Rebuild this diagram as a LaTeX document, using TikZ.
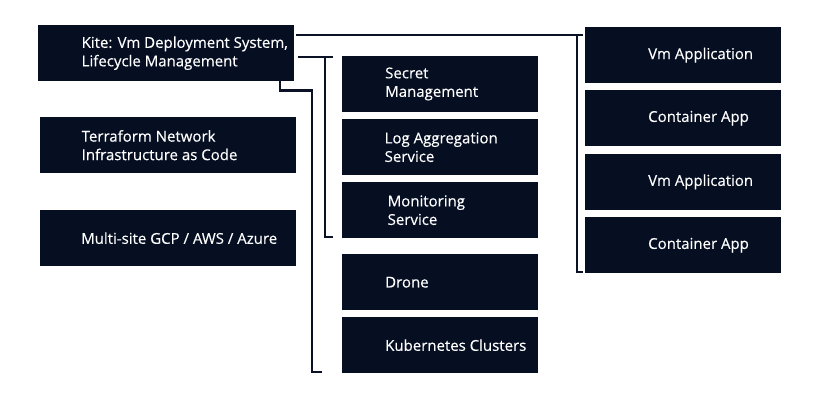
\documentclass[tikz,border=0pt]{standalone}
\usepackage{fontspec}
\setmainfont{Open Sans}
\newfontfamily\boxfont{Open Sans}[FakeBold=0.3]
\definecolor{navy}{HTML}{060E22}
\definecolor{wire}{HTML}{0B1226}
\begin{document}
\begin{tikzpicture}[x=1pt,y=-1pt,
  box/.style={fill=navy, draw=none, inner sep=0pt, anchor=north west},
  lbox/.style={box, minimum width=256pt, minimum height=56pt},
  mbox/.style={box, minimum width=196pt, minimum height=56pt},
  lbl/.style={text=white, anchor=west, align=left, inner sep=0pt, font=\boxfont\fontsize{15pt}{18.5pt}\selectfont},
  wireline/.style={draw=wire, line width=2.2pt, line cap=rect}]
\useasboundingbox (0,0) rectangle (816,408);
% left column
\node[lbox] (kite) at (38,25) {};
\node[lbl] (kitet) at ([xshift=43.5pt]kite.west) {Kite: Vm Deployment System,\\Lifecycle Management};
\node[lbox] (terra) at (40,117) {};
\node[lbl] (terrat) at ([xshift=41.5pt]terra.west) {Terraform Network\\Infrastructure as Code};
\node[lbox] (multi) at (40,210) {};
\node[lbl] (multit) at ([xshift=41pt]multi.west) {Multi-site GCP / AWS / Azure};
% middle column
\node[mbox, minimum height=55.5pt] (secret) at (342,56) {};
\node[lbl] (secrett) at ([xshift=43pt]secret.west) {Secret\\Management};
\node[mbox] (log) at (342,119) {};
\node[lbl] (logt) at ([xshift=42.5pt]log.west) {Log Aggregation\\Service};
\node[mbox] (mon) at (342,182) {};
\node[lbl] (mont) at ([xshift=45.5pt]mon.west) {Monitoring\\Service};
\node[mbox] (drone) at (342,254) {};
\node[lbl] (dronet) at ([xshift=43pt]drone.west) {Drone};
\node[mbox] (kube) at (342,317) {};
\node[lbl] (kubet) at ([xshift=43pt]kube.west) {Kubernetes Clusters};
% right column
\node[mbox] (vm1) at (585,27) {};
\node[lbl] (vm1t) at ([xshift=63pt]vm1.west) {Vm Application};
\node[mbox] (ca1) at (585,90) {};
\node[lbl] (ca1t) at ([xshift=63pt]ca1.west) {Container App};
\node[mbox, minimum height=55.5pt] (vm2) at (585,154) {};
\node[lbl] (vm2t) at ([xshift=63pt]vm2.west) {Vm Application};
\node[mbox] (ca2) at (585,217) {};
\node[lbl] (ca2t) at ([xshift=63pt]ca2.west) {Container App};
% connectors
\coordinate (rb) at (577,0);
\draw[wireline] ([xshift=3pt]kite.east |- 0,35) -- ([xshift=-3pt]vm1.west |- 0,35);
\draw[wireline] (rb |- 0,35) -- (rb |- 0,272) -- ([xshift=-3pt]ca2.west |- 0,272);
\coordinate (mb) at (325,0);
\draw[wireline] ([xshift=5pt]kite.east |- 0,57) -- ([xshift=-10pt]secret.west |- 0,57);
\draw[wireline] (mb |- 0,57) -- (mb |- 0,237) -- ([xshift=-10pt]mon.west |- 0,237);
\coordinate (kb) at (280,0);
\draw[wireline] (kb |- kite.south) -- (kb |- 0,90.5) -- (312,90.5) -- (312,372) -- ([xshift=-21pt]kube.west |- 0,372);
\end{tikzpicture}
\end{document}
